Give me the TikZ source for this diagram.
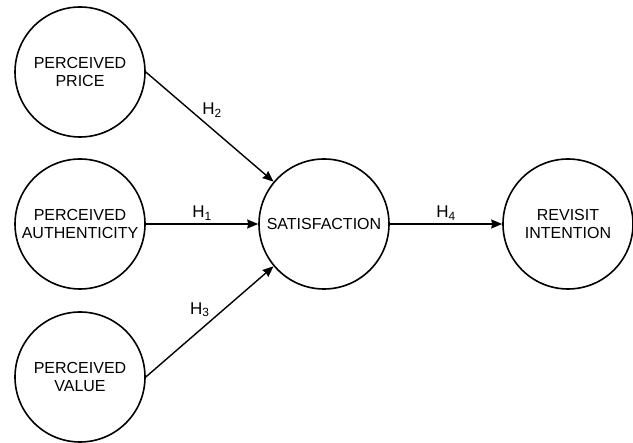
\documentclass[tikz,border=0pt]{standalone}
\usepackage{fontspec}
\setmainfont{Liberation Sans}
\usetikzlibrary{arrows.meta}

\begin{document}
\begin{tikzpicture}[x=1pt, y=-1pt,
    construct/.style={draw, circle, line width=1.6pt, minimum size=130pt, inner sep=0pt,
        align=center, font=\fontsize{16}{17.5}\selectfont},
    path/.style={line width=1.4pt, -{Stealth[length=11pt, width=9pt, inset=1pt]}},
    every node/.style={font=\fontsize{17}{18}\selectfont}]
    \useasboundingbox (0,0) rectangle (633,443);
    \node[construct] (price) at (80,72) {PERCEIVED\\PRICE};
    \node[construct] (auth) at (80,224) {PERCEIVED\\AUTHENTICITY};
    \node[construct] (value) at (80,377) {PERCEIVED\\VALUE};
    \node[construct] (sat) at (324,224) {SATISFACTION};
    \node[construct] (revisit) at (568,224) {REVISIT\\INTENTION};
    \draw[path] (price.east) -- (sat.140) node[pos=0.43, above right, inner sep=1pt]{H\textsubscript{2}};
    \draw[path] (auth.east) -- (sat.west) node[midway, above, inner sep=3pt]{H\textsubscript{1}};
    \draw[path] (value.east) -- (sat.-140) node[pos=0.52, above left, inner sep=2pt]{H\textsubscript{3}};
    \draw[path] (sat.east) -- (revisit.west) node[midway, above, inner sep=3pt]{H\textsubscript{4}};
\end{tikzpicture}
\end{document}
